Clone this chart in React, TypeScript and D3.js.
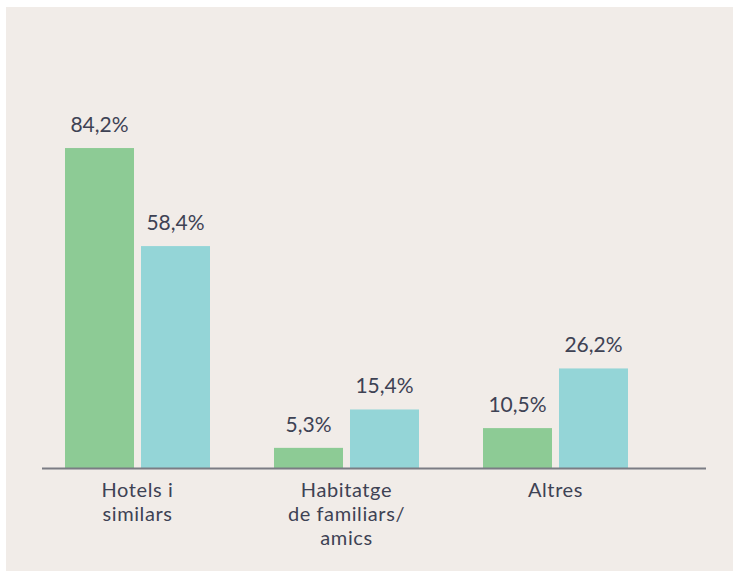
import React from "react";
import * as d3 from "d3";

const categories: string[][] = [["Hotels i", "similars"], ["Habitatge", "de familiars/", "amics"], ["Altres"]];
const seriesA: number[] = [84.2, 5.3, 10.5];
const seriesB: number[] = [58.4, 15.4, 26.2];
const seriesColors = ["#8dcb95", "#94d5d7"];

const W = 733;
const H = 571;

export default function App() {
  const keys = categories.map((c) => c.join(" "));
  const baseY = 468;
  const x = d3.scaleBand<string>().domain(keys).range([33, 660]).padding(0);
  const inner = d3.scaleBand<string>().domain(["a", "b"]).range([-72.5, 72.5]).paddingInner(0.092);
  const y = d3.scaleLinear().domain([0, 100]).range([baseY, baseY - 380]);
  const fmt = (v: number) => v.toFixed(1).replace(".", ",") + "%";
  const textColor = "#3e4254";
  const font = "Lato, sans-serif";

  return (
    <svg width={W} height={H} style={{ position: "absolute", left: 0, top: 0 }}>
      <rect x={6} y={7} width={W - 6} height={H - 7} fill="#f1ece8" />
      {keys.map((k, i) => {
        const cx = (x(k) as number) + x.bandwidth() / 2;
        const vals = [seriesA[i], seriesB[i]];
        return (
          <g key={k}>
            {vals.map((v, j) => {
              const s = j === 0 ? "a" : "b";
              const bx = cx + (inner(s) as number);
              return (
                <g key={s}>
                  <rect x={bx} y={y(v)} width={inner.bandwidth()} height={baseY - y(v)} fill={seriesColors[j]} />
                  <text
                    x={bx + inner.bandwidth() / 2}
                    y={y(v) - 16}
                    textAnchor="middle"
                    fontFamily={font}
                    fontSize={21}
                    fill={textColor}
                  >
                    {fmt(v)}
                  </text>
                </g>
              );
            })}
            {categories[i].map((line, li) => (
              <text
                key={li}
                x={cx}
                y={497 + li * 24}
                textAnchor="middle"
                fontFamily={font}
                fontSize={20}
                letterSpacing={0.6}
                fill={textColor}
              >
                {line}
              </text>
            ))}
          </g>
        );
      })}
      <line x1={42} x2={706} y1={baseY + 0.5} y2={baseY + 0.5} stroke="#7b7c84" strokeWidth={2} />
    </svg>
  );
}
